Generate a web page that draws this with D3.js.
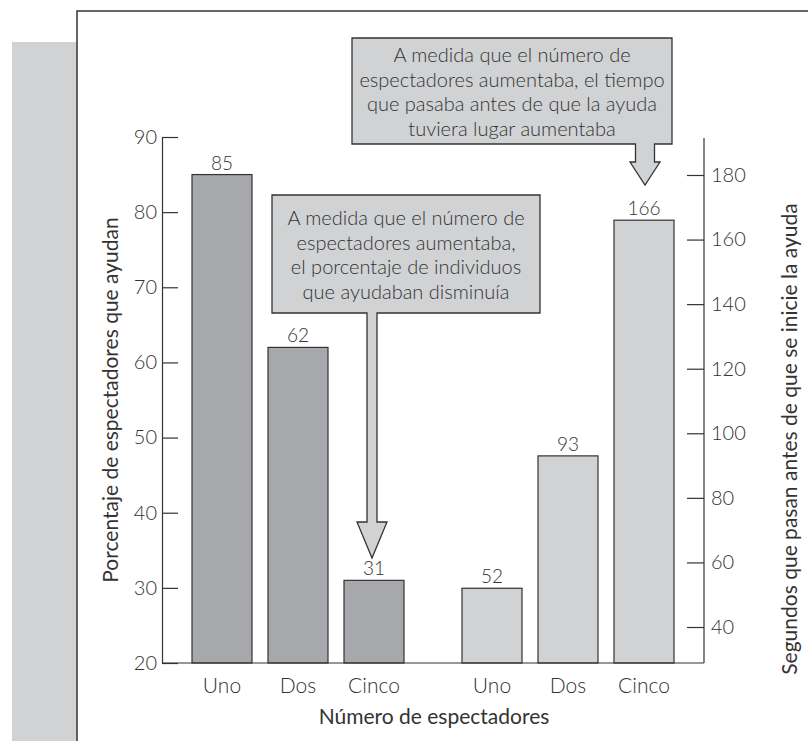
<!DOCTYPE html>
<html>
<head>
<meta charset="utf-8">
<script src="https://cdn.jsdelivr.net/npm/d3@7"></script>
<style>
  html, body { margin: 0; padding: 0; background: #fff; }
  svg { display: block; font-family: Lato, "Open Sans", sans-serif; }
</style>
</head>
<body>
<svg id="chart" width="808" height="741"></svg>
<script>
// datos
const categories = ["Uno", "Dos", "Cinco"];
const pctHelping = [85, 62, 31];          // eje izquierdo (%)
const secondsBeforeHelp = [52, 93, 166];  // eje derecho (segundos)
const leftTicks = [20, 30, 40, 50, 60, 70, 80, 90];
const rightTicks = [40, 60, 80, 100, 120, 140, 160, 180];

const note1 = ["A medida que el número de", "espectadores aumentaba, el tiempo",
  "que pasaba antes de que la ayuda", "tuviera lugar aumentaba"];
const note2 = ["A medida que el número de", "espectadores aumentaba,",
  "el porcentaje de individuos", "que ayudaban disminuía"];

const svg = d3.select("#chart");
const ink = "#333";
const darkBar = "#a7a8ab";
const lightBar = "#d1d2d4";

// marco y panel gris
svg.append("rect").attr("x", 12).attr("y", 42).attr("width", 65).attr("height", 700)
  .attr("fill", lightBar);
svg.append("path").attr("d", "M77,741V11H808")
  .attr("fill", "none").attr("stroke", ink).attr("stroke-width", 1.5);

const baseY = 663;
const axisL = 162, axisR = 704;

const yLeft = d3.scaleLinear().domain([20, 90]).range([baseY, 137]);
const yRight = d3.scaleLinear().domain([40, 180]).range([627, 175]);

const xLeft = d3.scaleBand().domain(categories).range([176, 420]).padding(16 / 76);
const xRight = d3.scaleBand().domain(categories).range([446, 690]).padding(16 / 76);

// barras
function bars(x, y, values, fill, y0) {
  const g = svg.append("g");
  g.selectAll("rect").data(values).join("rect")
    .attr("x", (d, i) => x(categories[i]))
    .attr("y", d => y(d))
    .attr("width", x.bandwidth())
    .attr("height", d => y0 - y(d))
    .attr("fill", fill)
    .attr("stroke", ink).attr("stroke-width", 1.2);
  g.selectAll("text.val").data(values).join("text")
    .attr("class", "val")
    .attr("x", (d, i) => x(categories[i]) + x.bandwidth() / 2)
    .attr("y", d => y(d) - 5)
    .attr("text-anchor", "middle")
    .attr("fill", ink)
    .style("font-size", "19px")
    .style("font-weight", 300)
    .text(d => d);
  g.selectAll("text.cat").data(categories).join("text")
    .attr("class", "cat")
    .attr("x", d => x(d) + x.bandwidth() / 2)
    .attr("y", baseY + 30)
    .attr("text-anchor", "middle")
    .attr("fill", ink)
    .style("font-size", "21px")
    .style("font-weight", 300)
    .text(d => d);
}
bars(xLeft, yLeft, pctHelping, darkBar, baseY);
bars(xRight, yRight, secondsBeforeHelp, lightBar, baseY);

// ejes
const gL = svg.append("g").attr("transform", `translate(${axisL},0)`)
  .call(d3.axisLeft(yLeft).tickValues(leftTicks).tickSizeInner(-16).tickSizeOuter(0).tickPadding(5));
const gR = svg.append("g").attr("transform", `translate(${axisR},0)`)
  .call(d3.axisRight(yRight).tickValues(rightTicks).tickSizeInner(-17).tickSizeOuter(0).tickPadding(7));
gR.select(".domain").remove();
svg.append("line").attr("x1", axisR).attr("x2", axisR).attr("y1", 138).attr("y2", baseY)
  .attr("stroke", ink).attr("stroke-width", 1.2);
[gL, gR].forEach(g => {
  g.selectAll("line").attr("stroke", ink).attr("stroke-width", 1.2);
  g.select(".domain").attr("stroke", ink).attr("stroke-width", 1.2);
  g.selectAll("text").attr("fill", ink).style("font-size", "20px")
    .style("font-weight", 300).style("font-family", "Lato, sans-serif");
});
// línea base
svg.append("line").attr("x1", axisL).attr("x2", axisR).attr("y1", baseY).attr("y2", baseY)
  .attr("stroke", ink).attr("stroke-width", 1.2);

// títulos
svg.append("text")
  .attr("transform", "translate(118,400) rotate(-90)")
  .attr("text-anchor", "middle").attr("fill", ink)
  .style("font-size", "21px").text("Porcentaje de espectadores que ayudan");
svg.append("text")
  .attr("transform", "translate(797,439) rotate(-90)")
  .attr("text-anchor", "middle").attr("fill", ink)
  .style("font-size", "21px").text("Segundos que pasan antes de que se inicie la ayuda");
svg.append("text")
  .attr("x", 434).attr("y", 724)
  .attr("text-anchor", "middle").attr("fill", ink)
  .style("font-size", "21px").text("Número de espectadores");

// cuadros con flecha
function callout(b, lines, firstY) {
  const p = d3.path();
  p.moveTo(b.x0, b.y0);
  p.lineTo(b.x1, b.y0);
  p.lineTo(b.x1, b.y1);
  p.lineTo(b.cx + b.sw, b.y1);
  p.lineTo(b.cx + b.sw, b.headY);
  p.lineTo(b.cx + 15, b.headY);
  p.lineTo(b.cx, b.tipY);
  p.lineTo(b.cx - 15, b.headY);
  p.lineTo(b.cx - b.sw, b.headY);
  p.lineTo(b.cx - b.sw, b.y1);
  p.lineTo(b.x0, b.y1);
  p.closePath();
  svg.append("path").attr("d", p.toString())
    .attr("fill", lightBar).attr("stroke", ink).attr("stroke-width", 1.3)
    .attr("stroke-linejoin", "miter");
  svg.append("g").selectAll("text").data(lines).join("text")
    .attr("x", (b.x0 + b.x1) / 2)
    .attr("y", (d, i) => firstY + i * 24.5)
    .attr("text-anchor", "middle")
    .attr("fill", ink)
    .style("font-size", "20px")
    .style("font-weight", 300)
    .text(d => d);
}
callout({ x0: 352, x1: 672, y0: 38, y1: 144, cx: 645, sw: 9.5, headY: 162, tipY: 185 }, note1, 62);
callout({ x0: 272, x1: 540, y0: 195, y1: 313, cx: 372, sw: 5, headY: 522, tipY: 558 }, note2, 225);
</script>
</body>
</html>
